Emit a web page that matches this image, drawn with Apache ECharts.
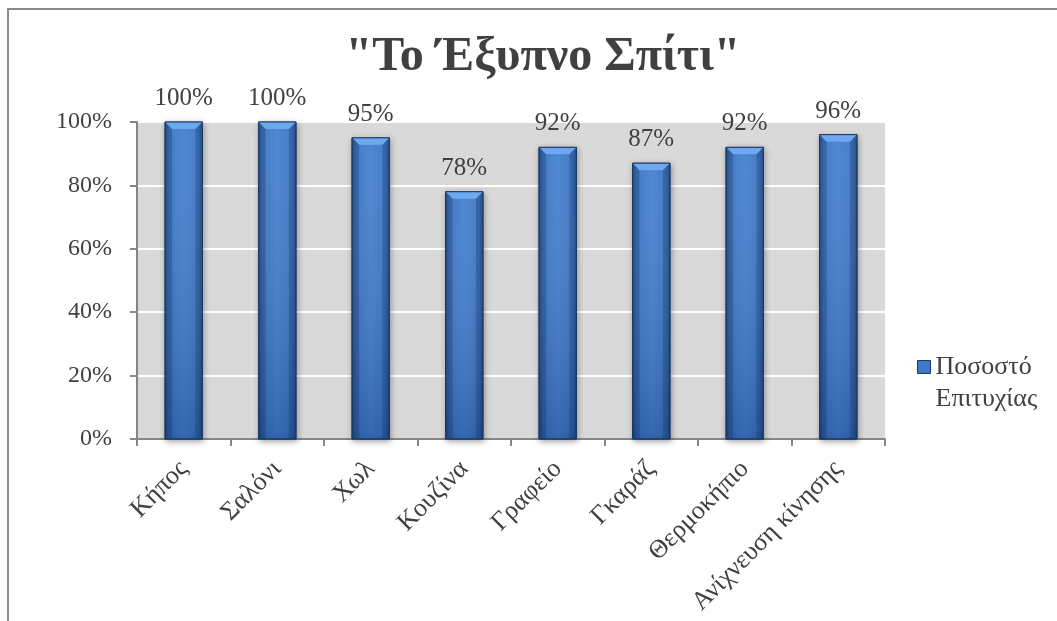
<!DOCTYPE html>
<html>
<head>
<meta charset="utf-8">
<script src="https://cdn.jsdelivr.net/npm/echarts@6/dist/echarts.min.js"></script>
<style>
  html, body { margin: 0; padding: 0; background: #ffffff; }
  #chart { width: 1057px; height: 621px; }
</style>
</head>
<body>
<div id="chart"></div>
<script>
// Rooms of the smart home and the success rate measured for each
const categories = ['Κήπος', 'Σαλόνι', 'Χωλ', 'Κουζίνα', 'Γραφείο', 'Γκαράζ', 'Θερμοκήπιο', 'Ανίχνευση κίνησης'];
const successRate = [1.00, 1.00, 0.95, 0.78, 0.92, 0.87, 0.92, 0.96];
const yTicks = [0, 0.2, 0.4, 0.6, 0.8, 1.0];
const seriesName = 'Ποσοστό Επιτυχίας';

const FONT = '"Liberation Serif", "Times New Roman", serif';
const TEXT = '#404040';

const pct = v => Math.round(v * 100) + '%';

// Bevelled bar: body with a shaded gradient plus a lighter chamfer on top
function renderBar(params, api) {
  const idx = api.value(0);
  const val = api.value(1);
  const top = api.coord([idx, val]);
  const base = api.coord([idx, 0]);
  const bw = api.size([1, 0])[0] * 0.40;
  const x0 = top[0] - bw / 2;
  const x1 = top[0] + bw / 2;
  const yT = top[1];
  const yB = base[1];
  const bev = 7;

  const body = new echarts.graphic.LinearGradient(0, 0, 1, 0, [
    { offset: 0, color: '#23508f' },
    { offset: 0.12, color: '#3a74c2' },
    { offset: 0.5, color: '#4480d0' },
    { offset: 0.88, color: '#3a74c2' },
    { offset: 1, color: '#23508f' }
  ]);
  const shade = new echarts.graphic.LinearGradient(0, 0, 0, 1, [
    { offset: 0, color: 'rgba(255,255,255,0.06)' },
    { offset: 1, color: 'rgba(0,20,60,0.22)' }
  ]);

  return {
    type: 'group',
    children: [
      {
        type: 'rect',
        shape: { x: x0, y: yT, width: bw, height: yB - yT },
        style: {
          fill: body,
          stroke: '#1b3a66',
          lineWidth: 1,
          shadowBlur: 6,
          shadowColor: 'rgba(0,0,0,0.35)',
          shadowOffsetX: 1,
          shadowOffsetY: 2
        }
      },
      {
        type: 'rect',
        shape: { x: x0, y: yT, width: bw, height: yB - yT },
        style: { fill: shade }
      },
      {
        type: 'polygon',
        shape: { points: [[x0, yT], [x1, yT], [x1 - bev, yT + bev], [x0 + bev, yT + bev]] },
        style: { fill: '#6ea8ee' }
      },
      {
        type: 'polygon',
        shape: { points: [[x0, yT], [x0 + bev, yT + bev], [x0 + bev, yB], [x0, yB]] },
        style: { fill: 'rgba(20,50,100,0.3)' }
      },
      {
        type: 'polygon',
        shape: { points: [[x1, yT], [x1 - bev, yT + bev], [x1 - bev, yB], [x1, yB]] },
        style: { fill: 'rgba(20,50,100,0.3)' }
      },
      {
        type: 'rect',
        shape: { x: x0, y: yT, width: bw, height: yB - yT },
        style: { fill: 'none', stroke: '#1b3a66', lineWidth: 1 }
      },
      {
        type: 'text',
        style: {
          text: pct(val),
          x: top[0],
          y: yT - 11,
          textAlign: 'center',
          textVerticalAlign: 'bottom',
          font: '25px ' + FONT,
          fill: TEXT
        }
      }
    ]
  };
}

const chart = echarts.init(document.getElementById('chart'), null, { renderer: 'canvas' });

chart.setOption({
  animation: false,
  backgroundColor: '#ffffff',
  graphic: [
    {
      type: 'rect',
      shape: { x: 8, y: 9, width: 1100, height: 700 },
      style: { fill: 'none', stroke: '#8a8a8a', lineWidth: 2 },
      silent: true
    }
  ],
  title: {
    text: '"Το Έξυπνο Σπίτι"',
    left: 538,
    textAlign: 'center',
    top: 29,
    textStyle: {
      fontFamily: FONT,
      fontSize: 48,
      fontWeight: 'bold',
      color: TEXT
    }
  },
  legend: {
    data: [seriesName],
    left: 912,
    top: 314,
    orient: 'vertical',
    icon: 'rect',
    itemWidth: 13,
    itemHeight: 13,
    itemGap: 0,
    // leading blank line keeps the marker level with the first text line
    formatter: () => '\u00a0\nΠοσοστό\nΕπιτυχίας',
    textStyle: {
      fontFamily: FONT,
      fontSize: 26,
      color: TEXT,
      lineHeight: 32
    },
    itemStyle: { color: '#3f79c8', borderColor: '#1b3a66', borderWidth: 1 }
  },
  grid: {
    left: 137,
    right: 172,
    top: 122,
    bottom: 182,
    show: true,
    backgroundColor: '#d9d9d9',
    borderWidth: 0
  },
  xAxis: {
    type: 'category',
    data: categories,
    boundaryGap: true,
    axisLine: { show: true, lineStyle: { color: '#868686', width: 2 } },
    axisTick: { show: true, length: 7, lineStyle: { color: '#868686', width: 2 } },
    axisLabel: {
      rotate: 45,
      margin: 26,
      fontFamily: FONT,
      fontSize: 26,
      color: TEXT,
      interval: 0
    },
    splitLine: { show: false }
  },
  yAxis: {
    type: 'value',
    min: yTicks[0],
    max: yTicks[yTicks.length - 1],
    interval: yTicks[1] - yTicks[0],
    axisLine: { show: true, lineStyle: { color: '#868686', width: 2 } },
    axisTick: { show: true, length: 7, lineStyle: { color: '#868686', width: 2 } },
    axisLabel: {
      formatter: v => pct(v),
      margin: 25,
      fontFamily: FONT,
      fontSize: 24,
      color: TEXT
    },
    splitLine: { show: true, lineStyle: { color: '#ffffff', width: 2 } }
  },
  series: [
    {
      name: seriesName,
      type: 'custom',
      renderItem: renderBar,
      itemStyle: { color: '#3f79c8' },
      encode: { x: 0, y: 1 },
      data: successRate.map((v, i) => [i, v]),
      z: 3
    }
  ]
});
</script>
</body>
</html>
